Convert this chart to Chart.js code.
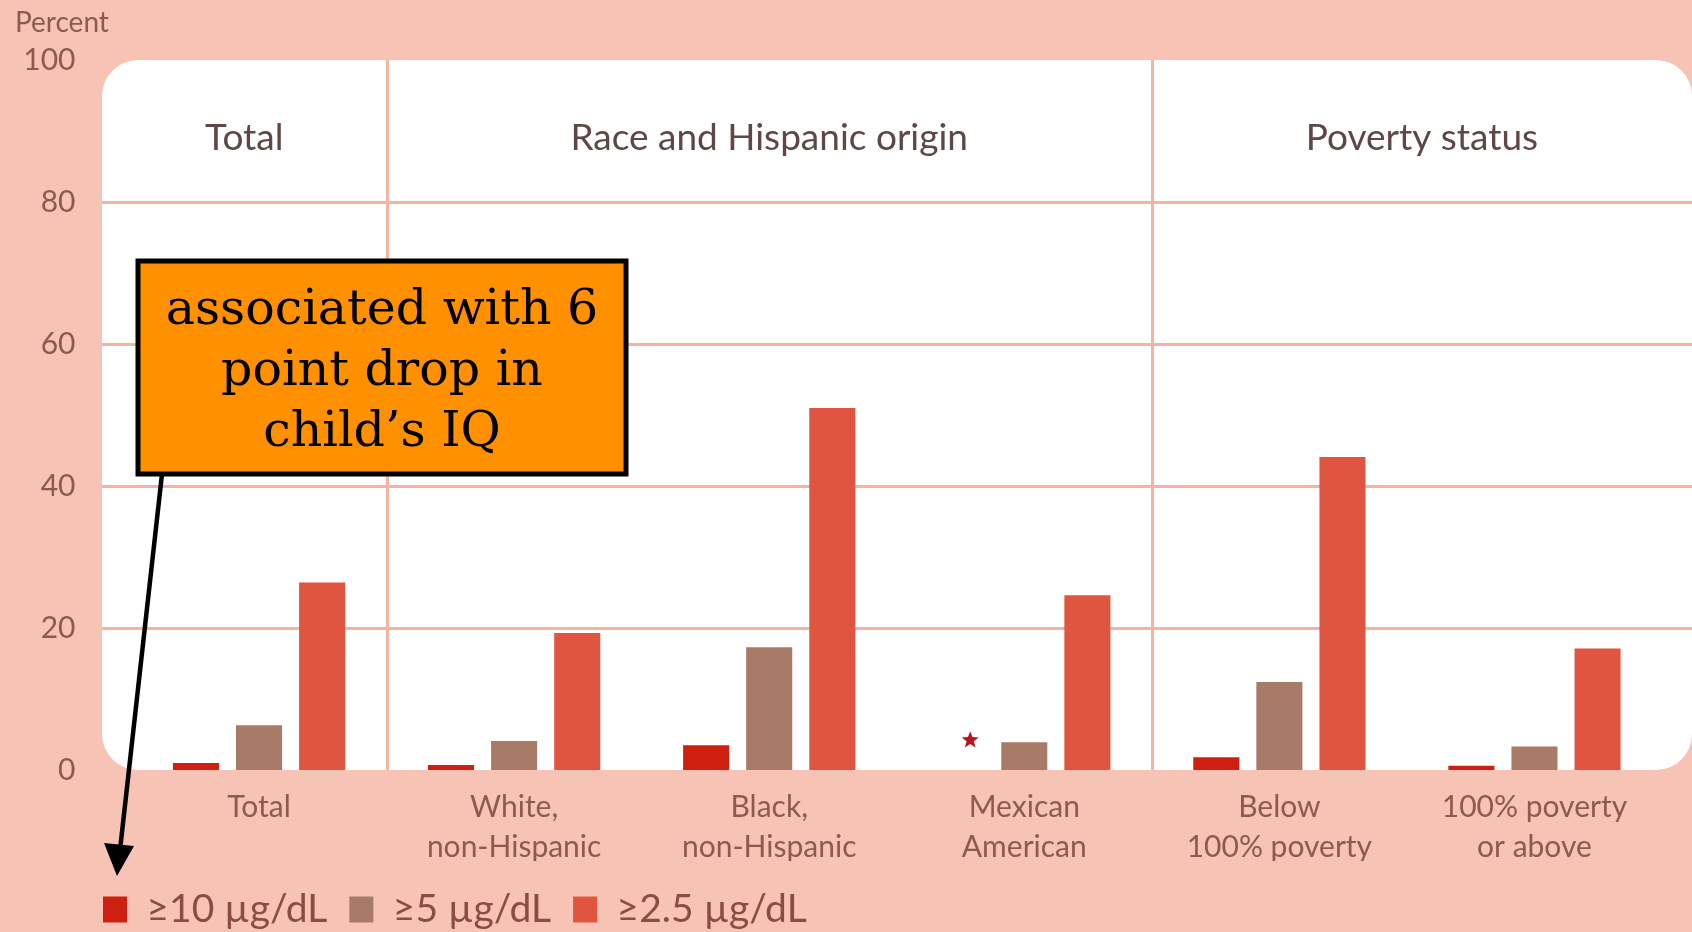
<!DOCTYPE html>
<html>
<head>
<meta charset="utf-8">
<script src="https://cdn.jsdelivr.net/npm/chart.js"></script>
<style>
  body { margin: 0; background: #f7c3b4; }
  canvas { display: block; }
</style>
</head>
<body>
<canvas id="leadChart" width="1692" height="932"></canvas>
<script>
// categories (multi-line tick labels) and their header groups
const categories = [["Total"], ["White,", "non-Hispanic"], ["Black,", "non-Hispanic"],
                    ["Mexican", "American"], ["Below", "100% poverty"], ["100% poverty", "or above"]];
const groupNames = ["Total", "Race and Hispanic origin", "Poverty status"];
const groupFirst = [0, 1, 4];
const groupLast = [0, 3, 5];

// percent of children with blood lead at or above each level
const seriesNames = ["≥10 µg/dL", "≥5 µg/dL", "≥2.5 µg/dL"];
const above10 = [1.0, 0.7, 3.5, null, 1.8, 0.6];
const above5 = [6.3, 4.1, 17.3, 3.9, 12.4, 3.3];
const above2_5 = [26.4, 19.3, 51.0, 24.6, 44.1, 17.1];
const starred = [3]; // estimate not shown (marked with a star)

const yTicks = [0, 20, 40, 60, 80, 100];
const noteLines = ["associated with 6", "point drop in", "child’s IQ"];

const colors = ["#cf1f10", "#a87b68", "#e0553f"];
const bg = "#f7c3b4";
const gridColor = "#f4b4a0";
const tickColor = "#8c5b50";
const panelLeft = 102;

window.onload = function() {
    const ctxEl = document.getElementById("leadChart").getContext("2d");

    // x pixels of the panel edges and the separators between groups
    function panelEdges(chart) {
        const x = chart.scales.x;
        const edges = [panelLeft];
        for (let g = 0; g < groupNames.length - 1; g++) {
            edges.push((x.getPixelForValue(groupLast[g]) + x.getPixelForValue(groupFirst[g + 1])) / 2);
        }
        edges.push(chart.width);
        return edges;
    }

    // white panel, gridlines, separators, headers and callout
    const backdrop = {
        id: "backdrop",
        afterLayout(chart) {
            // legend row starts under the panel edge
            chart.legend.left = 81;
            chart.legend.top = 868;
        },
        beforeDraw(chart) {
            const { ctx, scales: { y } } = chart;
            const top = y.getPixelForValue(100), bottom = y.getPixelForValue(0);
            const right = chart.width;
            const edges = panelEdges(chart);
            ctx.save();
            ctx.fillStyle = bg;
            ctx.fillRect(0, 0, chart.width, chart.height);
            ctx.fillStyle = "#ffffff";
            ctx.beginPath();
            ctx.roundRect(panelLeft, top, right - panelLeft, bottom - top, 36);
            ctx.fill();
            ctx.strokeStyle = gridColor;
            ctx.lineWidth = 3;
            yTicks.forEach(v => {
                if (v === 0 || v === 100) return;
                const py = Math.round(y.getPixelForValue(v)) + 0.5;
                ctx.beginPath(); ctx.moveTo(panelLeft, py); ctx.lineTo(right, py); ctx.stroke();
            });
            edges.slice(1, -1).forEach(ex => {
                const px = Math.round(ex) + 0.5;
                ctx.beginPath(); ctx.moveTo(px, top); ctx.lineTo(px, bottom); ctx.stroke();
            });
            ctx.restore();
        },
        afterDatasetsDraw(chart) {
            const { ctx, scales: { x, y } } = chart;
            const edges = panelEdges(chart);
            ctx.save();
            // group headers, centred in their panel
            ctx.fillStyle = "#5e4744";
            ctx.font = "37px Lato";
            ctx.textAlign = "center";
            ctx.textBaseline = "middle";
            groupNames.forEach((name, g) => {
                ctx.fillText(name, (edges[g] + edges[g + 1]) / 2, y.getPixelForValue(89));
            });
            // star for suppressed estimate
            const meta = chart.getDatasetMeta(0);
            ctx.fillStyle = "#b8141a";
            starred.forEach(i => {
                const el = meta.data[i];
                const sx = (el && isFinite(el.x) ? el.x : x.getPixelForValue(i) - 63) + 9;
                const sy = y.getPixelForValue(4.2);
                ctx.beginPath();
                for (let k = 0; k < 10; k++) {
                    const r = k % 2 === 0 ? 9 : 3.8;
                    const a = -Math.PI / 2 + k * Math.PI / 5;
                    ctx.lineTo(sx + r * Math.cos(a), sy + r * Math.sin(a));
                }
                ctx.closePath();
                ctx.fill();
            });
            ctx.restore();
        },
        afterDraw(chart) {
            const { ctx } = chart;
            ctx.save();
            // axis title
            ctx.fillStyle = tickColor;
            ctx.font = "28px Lato";
            ctx.textAlign = "left";
            ctx.textBaseline = "middle";
            ctx.fillText("Percent", 15, 23);
            // callout arrow
            ctx.strokeStyle = "#000";
            ctx.fillStyle = "#000";
            ctx.lineWidth = 4.5;
            ctx.beginPath(); ctx.moveTo(162, 474); ctx.lineTo(120, 850); ctx.stroke();
            ctx.beginPath();
            ctx.moveTo(117, 876); ctx.lineTo(104, 843); ctx.lineTo(134, 846); ctx.closePath();
            ctx.fill();
            // callout box
            ctx.fillStyle = "#ff9000";
            ctx.fillRect(138, 261, 488, 213);
            ctx.lineWidth = 5;
            ctx.strokeRect(138, 261, 488, 213);
            ctx.fillStyle = "#000";
            ctx.font = "49px 'DejaVu Serif'";
            ctx.textAlign = "center";
            noteLines.forEach((line, i) => ctx.fillText(line, 382, 311 + i * 61));
            ctx.restore();
        }
    };

    new Chart(ctxEl, {
        type: "bar",
        data: {
            labels: categories,
            datasets: [
                { label: seriesNames[0], data: above10, backgroundColor: colors[0], borderWidth: 0 },
                { label: seriesNames[1], data: above5, backgroundColor: colors[1], borderWidth: 0 },
                { label: seriesNames[2], data: above2_5, backgroundColor: colors[2], borderWidth: 0 }
            ]
        },
        options: {
            responsive: false,
            animation: false,
            categoryPercentage: 0.742,
            barPercentage: 0.73,
            layout: { padding: { top: 60, left: 0, right: 30, bottom: 0 } },
            plugins: {
                tooltip: { enabled: false },
                legend: {
                    position: "bottom",
                    align: "start",
                    labels: { boxWidth: 24, boxHeight: 26, padding: 22, color: "#8a4d44",
                              font: { family: "Lato", size: 39 } }
                }
            },
            scales: {
                x: {
                    grid: { display: false, drawTicks: true, tickLength: 17 },
                    border: { display: false },
                    ticks: { color: tickColor, padding: 0, maxRotation: 0, autoSkip: false,
                             font: { family: "Lato", size: 30, lineHeight: 40 / 30 } },
                    afterFit: s => { s.height = 91; }
                },
                y: {
                    min: 0, max: 100,
                    grid: { display: false, drawTicks: true, tickLength: 56 },
                    border: { display: false },
                    ticks: { stepSize: 20, color: tickColor, padding: 0,
                             font: { family: "Lato", size: 30 } },
                    afterFit: s => { s.width = 131.5; }
                }
            }
        },
        plugins: [backdrop]
    });
};
</script>
</body>
</html>
